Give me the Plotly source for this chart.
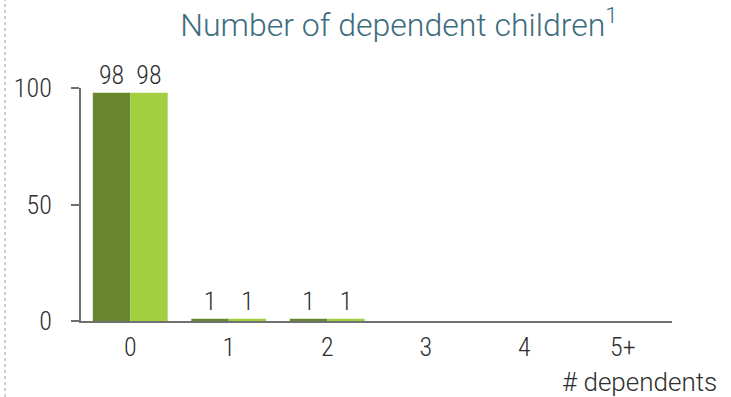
import plotly.graph_objects as go

categories = ["0", "1", "2", "3", "4", "5+"]
series_a = [98, 1, 1, 0, 0, 0]
series_b = [98, 1, 1, 0, 0, 0]

dark_green = "#68872c"
light_green = "#a2cf42"
text_color = "#2e2e2e"
axis_color = "#707070"
number_font = dict(size=26, color=text_color, family="Roboto Condensed", weight=300)
word_font = dict(size=26, color=text_color, family="Roboto", weight=300)

plot_w = 731 - 81 - 59
plot_h = 397 - 88 - 76


def labels(vals):
    return [str(v) if v else "" for v in vals]


fig = go.Figure()
for vals, color in ((series_a, dark_green), (series_b, light_green)):
    fig.add_trace(go.Bar(
        x=categories, y=vals, marker=dict(color=color, line=dict(width=0)),
        text=labels(vals), textposition="outside", cliponaxis=False,
        textfont=number_font, showlegend=False,
    ))

fig.update_layout(
    width=731, height=397,
    margin=dict(l=81, r=59, t=88, b=76),
    paper_bgcolor="white", plot_bgcolor="white",
    barmode="group", bargap=0.24, bargroupgap=0,
    uniformtext=dict(mode=False),
    title=dict(
        text="Number of dependent children<sup>1</sup>",
        x=399 / 731, xanchor="center", y=1 - 25 / 397, yanchor="middle",
        font=dict(size=32, color="#3d6c7e", family="Roboto", weight=300),
    ),
    xaxis=dict(
        showline=True, linecolor=axis_color, linewidth=2,
        ticks="outside", ticklen=2, tickcolor="rgba(0,0,0,0)",
        tickfont=number_font, showgrid=False, zeroline=False,
    ),
    yaxis=dict(
        range=[0, 100], tickvals=[0, 50, 100],
        showline=True, linecolor=axis_color, linewidth=2,
        ticks="outside", ticklen=8, tickwidth=2, tickcolor=axis_color,
        ticklabelstandoff=14, tickfont=number_font,
        showgrid=False, zeroline=False,
    ),
    annotations=[dict(
        text="# dependents", xref="paper", yref="paper",
        x=(719 - 81) / plot_w, y=-(382 - 321) / plot_h,
        xanchor="right", yanchor="middle", showarrow=False,
        font=word_font,
    )],
    shapes=[dict(
        type="line", xref="paper", yref="paper",
        x0=-(81 - 5) / plot_w, x1=-(81 - 5) / plot_w,
        y0=-76 / plot_h, y1=1 + 88 / plot_h,
        line=dict(color="#a0a0a0", width=1, dash="dot"),
    )],
)

fig.write_html("out.html")
